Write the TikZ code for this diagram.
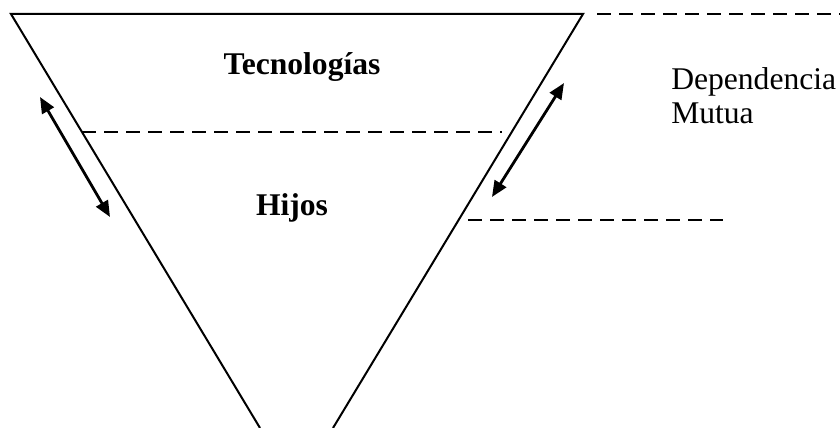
\documentclass[tikz,border=0pt]{standalone}
\usepackage{fontspec}
\setmainfont{Liberation Serif}
\usetikzlibrary{arrows.meta}

\begin{document}
\begin{tikzpicture}[x=0.75pt, y=-0.75pt,
        edge/.style={line width=1.5pt},
        level/.style={line width=1.5pt, dash pattern=on 10.5pt off 6pt},
        label/.style={font=\fontsize{23.7}{25}\selectfont\bfseries, inner sep=0pt, anchor=base},
        note/.style={font=\fontsize{23.7}{25.5}\selectfont, inner sep=0pt, anchor=base west, align=left},
        arr/.style={{Triangle[length=12pt,width=10pt]}-{Triangle[length=12pt,width=10pt]}, line width=2.1pt}
]
    \useasboundingbox (0,0) rectangle (840,428);
    % funnel
    \coordinate (tl) at (11,14);
    \coordinate (tr) at (583,14);
    \coordinate (bl) at (260,428);
    \coordinate (br) at (333,428);
    \draw[edge] (bl) -- (tl) -- (tr) -- (br);
    % levels
    \coordinate (topA) at (597,14);
    \coordinate (topB) at (840,14);
    \coordinate (midA) at (82,132);
    \coordinate (midB) at (502,132);
    \coordinate (lowA) at (468,220);
    \coordinate (lowB) at (723,220);
    \draw[level] (topA) -- (topB);
    \draw[level] (midA) -- (midB);
    \draw[level] (lowA) -- (lowB);
    % texts
    \node[label] (tech) at (302,75) {Tecnologías};
    \node[label] (kids) at (292,215) {Hijos};
    \node[note]  (dep)  at (671,124) {Dependencia\\Mutua};
    % arrows
    \coordinate (la) at (40,97);
    \coordinate (lb) at (110,217);
    \coordinate (ra) at (564,83);
    \coordinate (rb) at (492,197);
    \draw[arr] (la) -- (lb);
    \draw[arr] (ra) -- (rb);
\end{tikzpicture}
\end{document}
